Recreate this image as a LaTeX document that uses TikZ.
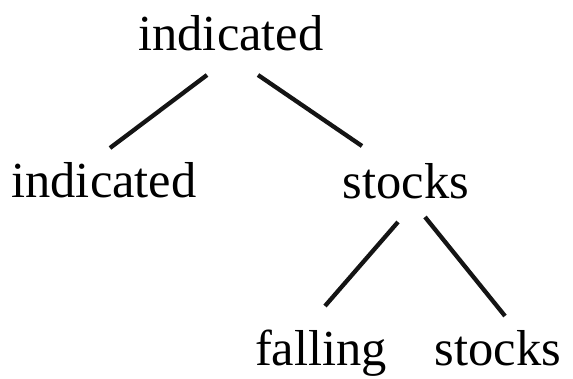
\documentclass[tikz,border=0pt]{standalone}
\usepackage{fontspec}
\setmainfont{Liberation Serif}
\usetikzlibrary{positioning}

\begin{document}
\begin{tikzpicture}[
          x=1pt, y=-1pt,
          word/.style={anchor=base, inner sep=0pt, font=\fontsize{50.5}{60}\selectfont},
          branch/.style={line width=4.3pt, color=black!92},
        ]
        \useasboundingbox (0,0) rectangle (573,378);

        \node[word] (root)   at (231,50)  {indicated};
        \node[word] (left)   at (104,197) {indicated};
        \node[word] (right)  at (406,198) {stocks};
        \node[word] (fall)   at (321,365) {falling};
        \node[word] (stock)  at (498,365) {stocks};

        \coordinate (rootL)  at (207,75);
        \coordinate (rootR)  at (258,75);
        \coordinate (leftT)  at (110,148);
        \coordinate (rightT) at (362,146);
        \coordinate (rightL) at (398,222);
        \coordinate (rightR) at (425,217);
        \coordinate (fallT)  at (325,306);
        \coordinate (stockT) at (505,316);

        \draw[branch] (rootL)  -- (leftT);
        \draw[branch] (rootR)  -- (rightT);
        \draw[branch] (rightL) -- (fallT);
        \draw[branch] (rightR) -- (stockT);
      \end{tikzpicture}
\end{document}
